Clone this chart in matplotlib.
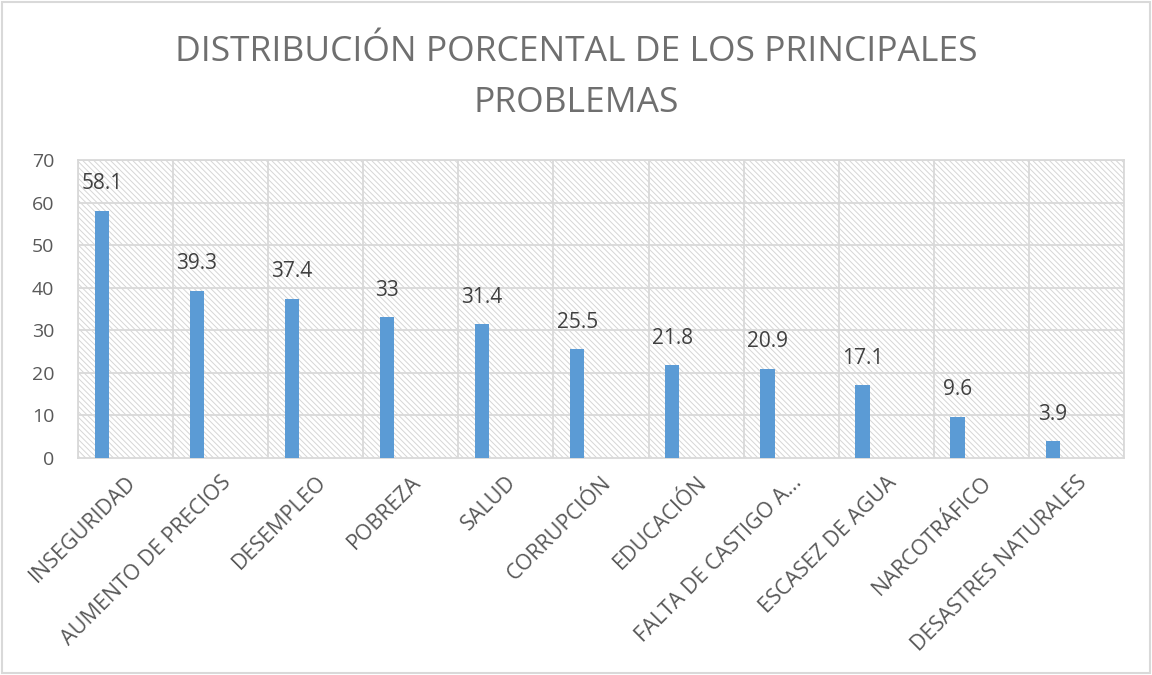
import matplotlib.pyplot as plt
from matplotlib.patches import Rectangle

# datos
categorias = ['INSEGURIDAD', 'AUMENTO DE PRECIOS', 'DESEMPLEO', 'POBREZA', 'SALUD',
              'CORRUPCIÓN', 'EDUCACIÓN', 'FALTA DE CASTIGO A...', 'ESCASEZ DE AGUA',
              'NARCOTRÁFICO', 'DESASTRES NATURALES']
porcentajes = [58.1, 39.3, 37.4, 33, 31.4, 25.5, 21.8, 20.9, 17.1, 9.6, 3.9]
etiquetas = ['58.1', '39.3', '37.4', '33', '31.4', '25.5', '21.8', '20.9', '17.1', '9.6', '3.9']

plt.rcParams['font.family'] = ['Open Sans', 'DejaVu Sans']
plt.rcParams['hatch.linewidth'] = 0.7

fig = plt.figure(figsize=(11.52, 6.75), dpi=100)
ax = fig.add_axes([0.0677, 0.3215, 0.9080, 0.4415])

# fondo rayado
fondo = Rectangle((0, 0), 1, 1, transform=ax.transAxes, facecolor='white',
                  edgecolor='#d6d6d6', hatch='\\\\\\\\\\\\', lw=0, zorder=0)
ax.add_patch(fondo)

x = list(range(len(categorias)))
xb = [i - 0.25 for i in x]
ax.bar(xb, porcentajes, width=0.15, color='#5b9bd5', zorder=3)

for xi, v, t in zip(xb, porcentajes, etiquetas):
    ax.annotate(t, (xi, v), xytext=(0, 12), textcoords='offset points',
                ha='center', va='bottom', fontsize=15, color='#404040', zorder=4)

ax.set_xlim(-0.5, len(categorias) - 0.5)
ax.set_ylim(0, 70)
ax.set_yticks(range(0, 71, 10))
ax.set_xticks(x)
ax.set_xticklabels(categorias, rotation=45, ha='right', rotation_mode='anchor',
                   fontsize=15.5, color='#595959')
ax.tick_params(axis='y', labelsize=14, labelcolor='#595959', length=0, pad=17)
ax.tick_params(axis='x', length=0, pad=10)

# rejilla
for y in range(10, 71, 10):
    ax.axhline(y, color='#d9d9d9', lw=1.3, zorder=1)
for b in range(len(categorias) + 1):
    ax.axvline(b - 0.5, color='#d9d9d9', lw=1.3, zorder=1)
for s in ax.spines.values():
    s.set_color('#d9d9d9')
    s.set_linewidth(1.3)

fig.text(0.5, 0.885, 'DISTRIBUCIÓN PORCENTAL DE LOS PRINCIPALES\nPROBLEMAS',
         ha='center', va='center', multialignment='center',
         fontsize=25.5, color='#6f6f6f', linespacing=1.65)

# borde del gráfico
fig.patches.append(Rectangle((0.002, 0.003), 0.996, 0.994, transform=fig.transFigure,
                             fill=False, edgecolor='#d9d9d9', lw=1.5))

fig.savefig('out.png', dpi=100)
